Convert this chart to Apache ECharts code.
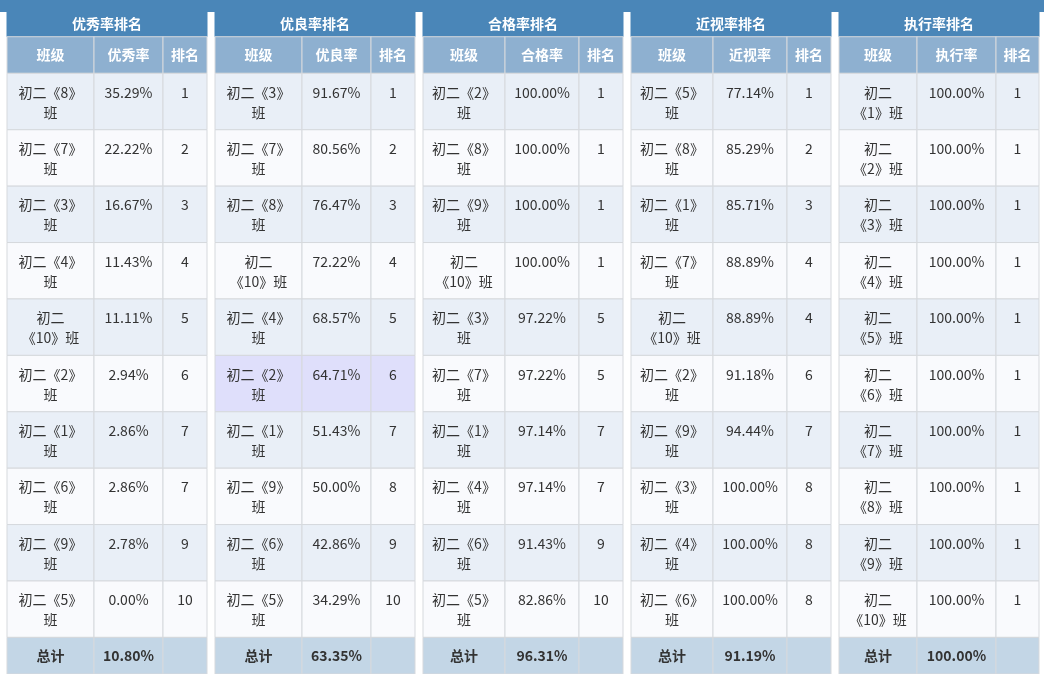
<!DOCTYPE html>
<html><head><meta charset="utf-8">
<script src="https://cdn.jsdelivr.net/npm/echarts@6/dist/echarts.min.js"></script>
<style>html,body{margin:0;padding:0;background:#fff}#c{width:1044px;height:674px}</style>
</head><body><div id="c"></div>
<script>
const titles = ['优秀率排名','优良率排名','合格率排名','近视率排名','执行率排名'];
const rateHeaders = ['优秀率','优良率','合格率','近视率','执行率'];
const classes1 = ['初二《8》班','初二《7》班','初二《3》班','初二《4》班','初二《10》班','初二《2》班','初二《1》班','初二《6》班','初二《9》班','初二《5》班'];
const rates1 = ['35.29%','22.22%','16.67%','11.43%','11.11%','2.94%','2.86%','2.86%','2.78%','0.00%'];
const ranks1 = [1,2,3,4,5,6,7,7,9,10];
const classes2 = ['初二《3》班','初二《7》班','初二《8》班','初二《10》班','初二《4》班','初二《2》班','初二《1》班','初二《9》班','初二《6》班','初二《5》班'];
const rates2 = ['91.67%','80.56%','76.47%','72.22%','68.57%','64.71%','51.43%','50.00%','42.86%','34.29%'];
const ranks2 = [1,2,3,4,5,6,7,8,9,10];
const classes3 = ['初二《2》班','初二《8》班','初二《9》班','初二《10》班','初二《3》班','初二《7》班','初二《1》班','初二《4》班','初二《6》班','初二《5》班'];
const rates3 = ['100.00%','100.00%','100.00%','100.00%','97.22%','97.22%','97.14%','97.14%','91.43%','82.86%'];
const ranks3 = [1,1,1,1,5,5,7,7,9,10];
const classes4 = ['初二《5》班','初二《8》班','初二《1》班','初二《7》班','初二《10》班','初二《2》班','初二《9》班','初二《3》班','初二《4》班','初二《6》班'];
const rates4 = ['77.14%','85.29%','85.71%','88.89%','88.89%','91.18%','94.44%','100.00%','100.00%','100.00%'];
const ranks4 = [1,2,3,4,4,6,7,8,8,8];
const classes5 = ['初二《1》班','初二《2》班','初二《3》班','初二《4》班','初二《5》班','初二《6》班','初二《7》班','初二《8》班','初二《9》班','初二《10》班'];
const rates5 = ['100.00%','100.00%','100.00%','100.00%','100.00%','100.00%','100.00%','100.00%','100.00%','100.00%'];
const ranks5 = [1,1,1,1,1,1,1,1,1,1];
const totals = ['10.80%','63.35%','96.31%','91.19%','100.00%'];
const highlight = {panel:1,row:5};

const panels = [[classes1,rates1,ranks1],[classes2,rates2,ranks2],[classes3,rates3,ranks3],[classes4,rates4,ranks4],[classes5,rates5,ranks5]];

// layout (not data)
const colEdges = [[0,87,156,200],[0,87,156,200],[0,82,156,200],[0,82,156,200],[0,78,157,200]];
const rowH = [26,37].concat(Array(10).fill(57)).concat([37]);
const rowEdges = [0]; rowH.forEach(h=>rowEdges.push(rowEdges[rowEdges.length-1]+h));

function splitName(p,name){
  if(p===4 || name.indexOf('10')>=0) return name.replace('初二','初二\n');
  return name.replace(/班$/,'\n班');
}

const grids=[],xAxes=[],yAxes=[],series=[];
panels.forEach((pd,p)=>{
  grids.push({left:7+208*p,top:11,width:200,height:rowEdges[rowEdges.length-1]});
  xAxes.push({type:'value',gridIndex:p,min:0,max:200,show:false});
  yAxes.push({type:'value',gridIndex:p,min:0,max:rowEdges[rowEdges.length-1],inverse:true,show:false});
  const cells=[];
  cells.push([0,3,0,titles[p],'title']);
  ['班级',rateHeaders[p],'排名'].forEach((t,c)=>cells.push([c,c+1,1,t,'head']));
  for(let r=0;r<10;r++){
    const hl = highlight.panel===p && highlight.row===r;
    const kind = hl?'hl':(r%2===0?'even':'odd');
    cells.push([0,1,r+2,splitName(p,pd[0][r]),kind]);
    cells.push([1,2,r+2,pd[1][r],kind]);
    cells.push([2,3,r+2,String(pd[2][r]),kind]);
  }
  cells.push([0,1,12,'总计','total']);
  cells.push([1,2,12,totals[p],'total']);
  cells.push([2,3,12,'','total']);
  const ce=colEdges[p];
  series.push({type:'custom',xAxisIndex:p,yAxisIndex:p,silent:true,clip:false,
    data:cells,
    renderItem:(params,api)=>{
      const d=cells[params.dataIndex];
      const c0=d[0],c1=d[1],r=d[2],txt=d[3],kind=d[4];
      const p0=api.coord([ce[c0],rowEdges[r]]), p1=api.coord([ce[c1],rowEdges[r+1]]);
      const x=p0[0],y=p0[1],w=p1[0]-p0[0],h=p1[1]-p0[1];
      const fills={title:'#4a86b8',head:'#8eb0d0',even:'#e9eff7',odd:'#f9fafd',hl:'#dfdffb',total:'#c3d6e6'};
      const bold = kind==='title'||kind==='head'||kind==='total';
      const color = (kind==='title'||kind==='head')?'#ffffff':'#333333';
      const stroke = kind==='title'?'#4a86b8':'#d6d9dd';
      let ty;
      if(kind==='title'||kind==='head'||kind==='total') ty=y+h/2; else ty=y+9;
      return {type:'group',children:[
        {type:'rect',shape:{x:x,y:y,width:w,height:h},style:{fill:fills[kind],stroke:stroke,lineWidth:1}},
        {type:'text',style:{text:txt,x:x+w/2,y:ty,align:'center',verticalAlign:(kind==='title'||kind==='head'||kind==='total')?'middle':'top',
          fill:color,font:(bold?'bold ':'')+'14px "Microsoft YaHei","Noto Sans CJK SC",sans-serif',lineHeight:20}}
      ]};
    }});
});

const chart=echarts.init(document.getElementById('c'));
chart.setOption({
  animation:false,
  graphic:[{type:'rect',shape:{x:0,y:0,width:1044,height:12},style:{fill:'#4a86b8'}}],
  grid:grids,xAxis:xAxes,yAxis:yAxes,series:series
});
</script></body></html>
